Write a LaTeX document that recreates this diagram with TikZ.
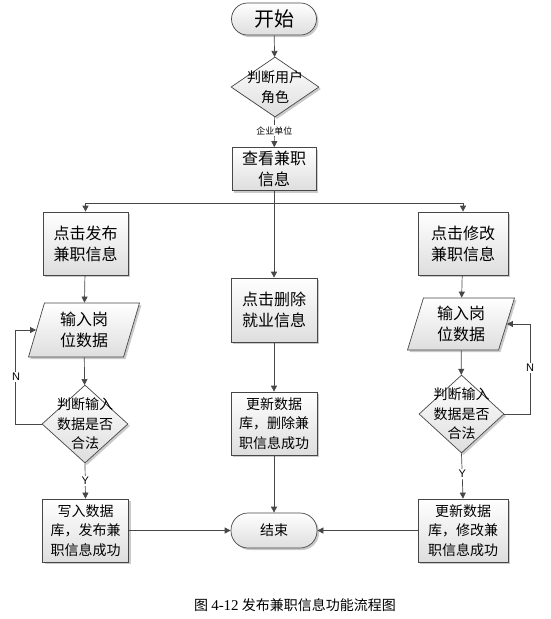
\documentclass[tikz,border=0pt]{standalone}
\usepackage{fontspec}
\setmainfont{Liberation Serif}
\newfontfamily\cjk{Noto Sans CJK SC}
\newfontfamily\lsans{Liberation Sans}
\usetikzlibrary{shapes.geometric,shadows,arrows.meta}
\begin{document}
\begin{tikzpicture}[x=1pt,y=-1pt,
  shaded/.style={draw=black!72, line width=0.7pt, top color=white, bottom color=black!13,
    drop shadow={shadow xshift=2pt, shadow yshift=-2pt, fill=black!35, opacity=0.6}},
  procbox/.style={shaded, rectangle, inner sep=0pt, align=center},
  bigtxt/.style={font=\cjk\fontsize{16}{21}\selectfont},
  midtxt/.style={font=\cjk\fontsize{14}{19.5}\selectfont},
  term/.style={shaded, rectangle, inner sep=0pt, align=center},
  decide/.style={shaded, diamond, inner sep=0pt, aspect=1},
  iobox/.style={shaded, trapezium, trapezium stretches body, trapezium left angle=66,
    trapezium right angle=114, inner sep=0pt, align=center},
  conn/.style={draw=black!72, line width=0.7pt},
  arr/.style={conn, -{Triangle[length=6pt,width=6pt]}},
  yn/.style={font=\lsans\fontsize{11}{13}\selectfont, fill=white, inner sep=1pt}
]
\useasboundingbox (0,0) rectangle (550,619);

% top column
\node[term, rounded corners=16pt, minimum width=85pt, minimum height=32pt,
  font=\cjk\fontsize{20}{24}\selectfont] (start) at (274,19) {开始};
\node[decide, minimum width=88pt, minimum height=60pt,
  label={[midtxt, align=center, inner sep=0pt]center:判断用户\\角色}] (role) at (275,87) {};
\node[procbox, bigtxt, minimum width=84pt, minimum height=43pt] (view) at (274,169) {查看兼职\\信息};

% left column
\node[procbox, bigtxt, minimum width=85pt, minimum height=63pt] (pub) at (85.5,243.5) {点击发布\\兼职信息};
\node[iobox, bigtxt, minimum width=111pt, minimum height=54pt] (lp) at (84,330) {输入岗\\位数据};
\node[decide, minimum width=86pt, minimum height=78pt,
  label={[midtxt, align=center, inner sep=0pt]center:判断输入\\数据是否\\合法}] (ld) at (85,424) {};
\node[procbox, midtxt, minimum width=86pt, minimum height=63pt] (wr) at (85.5,530.5) {写入数据\\库，发布兼\\职信息成功};

% centre column
\node[procbox, bigtxt, minimum width=86pt, minimum height=64pt] (del) at (274,310) {点击删除\\就业信息};
\node[procbox, midtxt, minimum width=86pt, minimum height=63pt] (cu) at (274,423.5) {更新数据\\库，删除兼\\职信息成功};
\node[term, midtxt, rounded corners=17pt, minimum width=86pt, minimum height=35pt] (end) at (274,530.5) {结束};

% right column
\node[procbox, bigtxt, minimum width=90pt, minimum height=63pt] (mod) at (463,243.5) {点击修改\\兼职信息};
\node[iobox, bigtxt, minimum width=107pt, minimum height=52pt] (rp) at (461,324) {输入岗\\位数据};
\node[decide, minimum width=85pt, minimum height=78pt,
  label={[midtxt, align=center, inner sep=0pt]center:判断输入\\数据是否\\合法}] (rd) at (461.5,414) {};
\node[procbox, midtxt, minimum width=90pt, minimum height=63pt] (ru) at (463,530.5) {更新数据\\库，修改兼\\职信息成功};

% connectors
\draw[arr] (start) -- (role);
\draw[arr] (role) -- node[font=\cjk\fontsize{9}{11}\selectfont, fill=white, inner sep=1pt, pos=0.45] (lbl) {企业单位} (view);
\coordinate (hub) at (274,203);
\draw[arr] (view) -- (del);
\draw[arr] (hub) -| (pub.north);
\draw[arr] (hub) -| (mod.north);

\draw[arr] (pub) -- (lp);
\draw[arr] (lp) -- (ld);
\draw[arr] (ld.south) -- node[yn, pos=0.5] (ly) {Y} (wr.north);
\draw[arr] (ld.west) -- ++(-26,0) coordinate (lc) |- (lp.west);
\node[yn] (ln) at (16,377) {N};
\draw[arr] (wr.east) -- (end.west);

\draw[arr] (del) -- (cu);
\draw[arr] (cu) -- (end);

\draw[arr] (mod) -- (rp);
\draw[arr] (rp) -- (rd);
\draw[arr] (rd.south) -- node[yn, pos=0.45] (ry) {Y} (ru.north);
\draw[arr] (rd.east) -- ++(26,0) coordinate (rc) |- (rp.east);
\node[yn] (rn) at (530,368) {N};
\draw[arr] (ru.west) -- (end.east);

% caption
\node[font=\cjk\fontsize{14}{17}\selectfont, inner sep=0pt] (cap) at (295,605) {图 {\rmfamily\fontsize{15}{17}\selectfont 4-12} 发布兼职信息功能流程图};
\end{tikzpicture}
\end{document}
